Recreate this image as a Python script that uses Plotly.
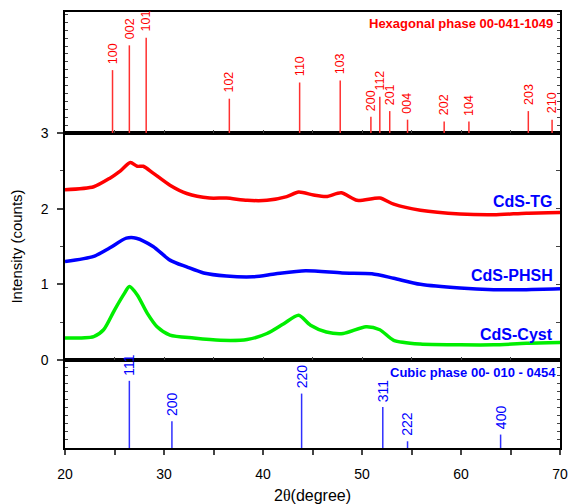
import plotly.graph_objects as go

# ---- data ----
hex_pos = [24.8, 26.5, 28.2, 36.6, 43.7, 47.8, 50.9, 51.8, 52.8, 54.6, 58.3, 60.8, 66.8, 69.2]
hex_int = [66, 92, 100, 36, 53, 55, 17, 38, 23, 14, 12, 12, 23, 14]
hex_hkl = ["100", "002", "101", "102", "110", "103", "200", "112", "201", "004", "202", "104", "203", "210"]

cub_pos = [26.5, 30.8, 43.9, 52.1, 54.6, 64.0]
cub_int = [100, 40, 81, 61, 10, 20]
cub_hkl = ["111", "200", "220", "311", "222", "400"]

tg_x = [20, 22.9, 24.5, 25.6, 26.6, 27.3, 27.9, 28.9, 30.6, 32.3, 34.6, 36.3, 38.4, 40.4, 42.4, 43.6,
        45.1, 46.4, 47.9, 49.5, 51.8, 53.2, 55.9, 59.9, 63.3, 66.6, 70]
tg_y = [2.25, 2.29, 2.40, 2.50, 2.61, 2.56, 2.56, 2.47, 2.31, 2.20, 2.14, 2.14, 2.11, 2.11, 2.16, 2.22,
        2.18, 2.16, 2.21, 2.11, 2.14, 2.06, 1.98, 1.93, 1.92, 1.94, 1.95]

ph_x = [20, 22.9, 24.5, 26.2, 27.2, 28.9, 30.6, 32.3, 34.0, 36.3, 39.0, 41.3, 44.3, 48.0, 51.0,
        53.2, 55.9, 59.9, 63.3, 66.6, 70]
ph_y = [1.30, 1.37, 1.48, 1.61, 1.61, 1.50, 1.32, 1.23, 1.15, 1.11, 1.10, 1.14, 1.18, 1.15, 1.14,
        1.08, 1.00, 0.95, 0.93, 0.93, 0.94]

cy_x = [20, 22.9, 23.9, 25.0, 26.0, 26.5, 27.3, 28.3, 29.3, 30.6, 33.0, 35.7, 38.4, 40.4, 42.1,
        43.6, 44.8, 46.4, 48.1, 50.4, 51.8, 53.2, 55.9, 59.9, 63.3, 66.6, 70]
cy_y = [0.29, 0.31, 0.40, 0.66, 0.88, 0.97, 0.86, 0.62, 0.44, 0.33, 0.29, 0.26, 0.27, 0.35, 0.48,
        0.59, 0.46, 0.37, 0.35, 0.44, 0.40, 0.26, 0.21, 0.20, 0.20, 0.22, 0.23]

series = [("CdS-TG", tg_x, tg_y, "#ff0000"),
          ("CdS-PHSH", ph_x, ph_y, "#0000ff"),
          ("CdS-Cyst", cy_x, cy_y, "#00ee00")]
label_y = [2.10, 1.12, 0.34]

FONT = "Liberation Sans, Arial, sans-serif"
fig = go.Figure()

# Hexagonal sticks (top panel: x3/y3)
for p, v in zip(hex_pos, hex_int):
    fig.add_trace(go.Scatter(x=[p, p], y=[0, v], mode="lines", line=dict(color="#ff3030", width=1.5),
                             xaxis="x3", yaxis="y3", showlegend=False, hoverinfo="skip"))
# Cubic sticks (bottom panel: x/y)
for p, v in zip(cub_pos, cub_int):
    fig.add_trace(go.Scatter(x=[p, p], y=[0, v], mode="lines", line=dict(color="#3030ff", width=1.5),
                             xaxis="x", yaxis="y", showlegend=False, hoverinfo="skip"))
# XRD curves (middle: x2/y2)
for name, xs, ys, c in series:
    fig.add_trace(go.Scatter(x=xs, y=ys, mode="lines", line=dict(color=c, width=3.5, shape="spline", smoothing=0.7),
                             xaxis="x2", yaxis="y2", showlegend=False, name=name))
# dummy trace for right-side tick axis
fig.add_trace(go.Scatter(x=[None], y=[None], xaxis="x2", yaxis="y4", showlegend=False, hoverinfo="skip"))

ann = []
for p, v, t in zip(hex_pos, hex_int, hex_hkl):
    ann.append(dict(x=p, y=v, xref="x3", yref="y3", text=t, textangle=-90, showarrow=False,
                    yanchor="bottom", xanchor="center", yshift=4, font=dict(color="#ff0000", size=12.5, family=FONT)))
for p, v, t in zip(cub_pos, cub_int, cub_hkl):
    ann.append(dict(x=p, y=v, xref="x", yref="y", text=t, textangle=-90, showarrow=False,
                    yanchor="bottom", xanchor="center", yshift=3, font=dict(color="#0000ff", size=14, family=FONT)))
ann.append(dict(x=0.99, y=0.995, xref="paper", yref="paper", text="<b>Hexagonal phase 00-041-1049</b>",
                showarrow=False, xanchor="right", yanchor="top", font=dict(color="#ff0000", size=13, family=FONT)))
ann.append(dict(x=0.995, y=0.195, xref="paper", yref="paper", text="<b>Cubic phase 00- 010 - 0454</b>",
                showarrow=False, xanchor="right", yanchor="top", font=dict(color="#0000ff", size=13, family=FONT)))
for (name, xs, ys, c), ly in zip(series, label_y):
    ann.append(dict(x=69.5, y=ly, xref="x2", yref="y2", text="<b>%s</b>" % name, showarrow=False,
                    xanchor="right", yanchor="middle", font=dict(color="#0000ff", size=16, family=FONT)))

d_bot = (448 - 360) / 436
d_mid = (448 - 133) / 436

axline = dict(showline=True, linecolor="black", linewidth=1.5, mirror=True, showgrid=False, zeroline=False,
              automargin=False)

fig.update_layout(
    width=568, height=504,
    margin=dict(l=65, r=8, t=12, b=56),
    plot_bgcolor="white", paper_bgcolor="white",
    font=dict(family=FONT, color="black", size=14),
    annotations=ann,
    xaxis=dict(domain=[0, 1], anchor="y", range=[20, 70], dtick=10, tick0=20, ticks="outside", ticklen=5,
               tickwidth=1.5, minor=dict(dtick=5, tick0=20, ticks="outside", ticklen=5, tickwidth=1.5),
               ticklabelstandoff=7, tickfont=dict(size=14),
               title=dict(text="2<span style='font-family:Liberation Serif'>θ</span>(degree)",
                          font=dict(size=16), standoff=10), **axline),
    yaxis=dict(domain=[0, d_bot], anchor="x", range=[0, 131], showticklabels=False, ticks="inside",
               dtick=12, ticklen=3, tickwidth=1, **{**axline, "mirror": "allticks"}),
    xaxis2=dict(domain=[0, 1], anchor="y2", range=[20, 70], matches="x", showticklabels=False, ticks="inside",
                dtick=5, ticklen=3, tickwidth=1, **axline),
    yaxis2=dict(domain=[d_bot, d_mid], anchor="x2", range=[0, 3], dtick=1, ticks="outside", ticklen=6,
                tickwidth=1.5, minor=dict(dtick=0.5, ticks="outside", ticklen=3, tickwidth=1),
                ticklabelstandoff=6, tickfont=dict(size=14),
                title=dict(text="Intensity (counts)", font=dict(size=15), standoff=14), **axline),
    yaxis4=dict(overlaying="y2", side="right", anchor="x2", range=[0, 3], dtick=0.5, ticks="inside", ticklen=4,
                tickwidth=1, showticklabels=False, showgrid=False, zeroline=False, showline=False),
    xaxis3=dict(domain=[0, 1], anchor="y3", range=[20, 70], matches="x", showticklabels=False, ticks="inside",
                dtick=5, ticklen=3, tickwidth=1, **axline),
    yaxis3=dict(domain=[d_mid, 1], anchor="x3", range=[0, 127], showticklabels=False, ticks="inside",
                dtick=8.3, ticklen=3, tickwidth=1, **{**axline, "mirror": "allticks"}),
)

fig.write_html("out.html", config={"displayModeBar": False},
               post_script="document.body.style.margin='0';document.body.style.overflow='hidden';")
